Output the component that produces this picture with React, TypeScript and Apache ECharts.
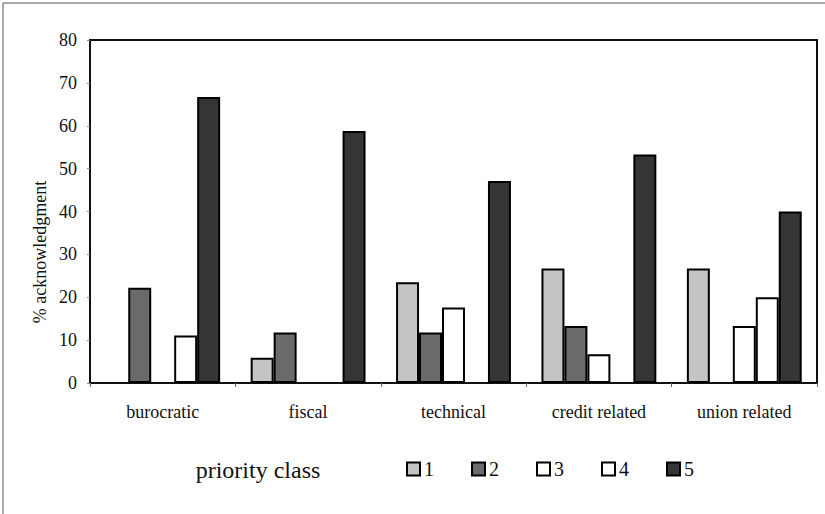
import React, { useEffect, useRef } from "react";
import * as echarts from "echarts";

const categories = ["burocratic", "fiscal", "technical", "credit related", "union related"];
const seriesNames = ["1", "2", "3", "4", "5"];
const priority1 = [null, 5.9, 23.5, 26.7, 26.7];
const priority2 = [22.2, 11.8, 11.8, 13.3, null];
const priority3 = [null, null, 17.6, 6.7, 13.3];
const priority4 = [11.1, null, null, null, 20.0];
const priority5 = [66.7, 58.8, 47.1, 53.3, 40.0];
const yTicks = [0, 10, 20, 30, 40, 50, 60, 70, 80];

const colors = ["#c4c4c4", "#6a6a6a", "#ffffff", "#ffffff", "#353535"];
const FONT = "'Liberation Serif', 'Times New Roman', serif";

export default function App() {
  const ref = useRef<HTMLDivElement>(null);
  useEffect(() => {
    if (!ref.current) return;
    const chart = echarts.init(ref.current, null, { renderer: "svg" });
    const values = [priority1, priority2, priority3, priority4, priority5];
    chart.setOption({
      animation: false,
      backgroundColor: "#ffffff",
      textStyle: { fontFamily: FONT, color: "#111" },
      grid: {
        left: 90,
        right: 8,
        top: 40,
        bottom: 131,
        show: true,
        borderColor: "#111",
        borderWidth: 2,
        backgroundColor: "#fff",
      },
      legend: {
        data: seriesNames,
        left: 401,
        top: 454,
        itemWidth: 13,
        itemHeight: 13,
        itemGap: 37,
        icon: "rect",
        textStyle: { fontFamily: FONT, fontSize: 20, color: "#111", padding: [0, 0, 0, -1] },
      },
      xAxis: {
        type: "category",
        data: categories,
        axisLine: { lineStyle: { color: "#111", width: 2 } },
        axisTick: { show: true, length: 4, lineStyle: { color: "#666" } },
        axisLabel: { fontFamily: FONT, fontSize: 18, color: "#111", margin: 20 },
        splitLine: { show: false },
      },
      yAxis: {
        type: "value",
        min: yTicks[0],
        max: yTicks[yTicks.length - 1],
        interval: 10,
        axisLine: { show: true, lineStyle: { color: "#111", width: 2 } },
        axisTick: { show: true, length: 3, lineStyle: { color: "#888" } },
        axisLabel: { fontFamily: FONT, fontSize: 18, color: "#111", margin: 13 },
        splitLine: { show: false },
      },
      series: values.map((v, i) => ({
        name: seriesNames[i],
        type: "bar",
        data: v,
        barGap: "0%",
        barCategoryGap: "21%",
        itemStyle: { color: colors[i], borderColor: "#000", borderWidth: 2 },
      })),
      graphic: [
        {
          type: "rect",
          shape: { x: 3, y: 3, width: 900, height: 600 },
          style: { fill: "none", stroke: "#555", lineWidth: 1 },
          silent: true,
        },
        {
          type: "text",
          x: 40,
          y: 252,
          rotation: Math.PI / 2,
          style: {
            text: "% acknowledgment",
            fontFamily: FONT,
            fontSize: 18,
            fill: "#111",
            textAlign: "center",
            textVerticalAlign: "middle",
          },
        },
        {
          type: "text",
          x: 258,
          y: 470,
          style: {
            text: "priority class",
            fontFamily: FONT,
            fontSize: 24,
            fill: "#111",
            textAlign: "center",
            textVerticalAlign: "middle",
          },
        },
      ],
    });
    return () => chart.dispose();
  }, []);
  return (
    <div
      ref={ref}
      style={{ position: "fixed", left: 0, top: 0, width: 825, height: 514 }}
    />
  );
}
